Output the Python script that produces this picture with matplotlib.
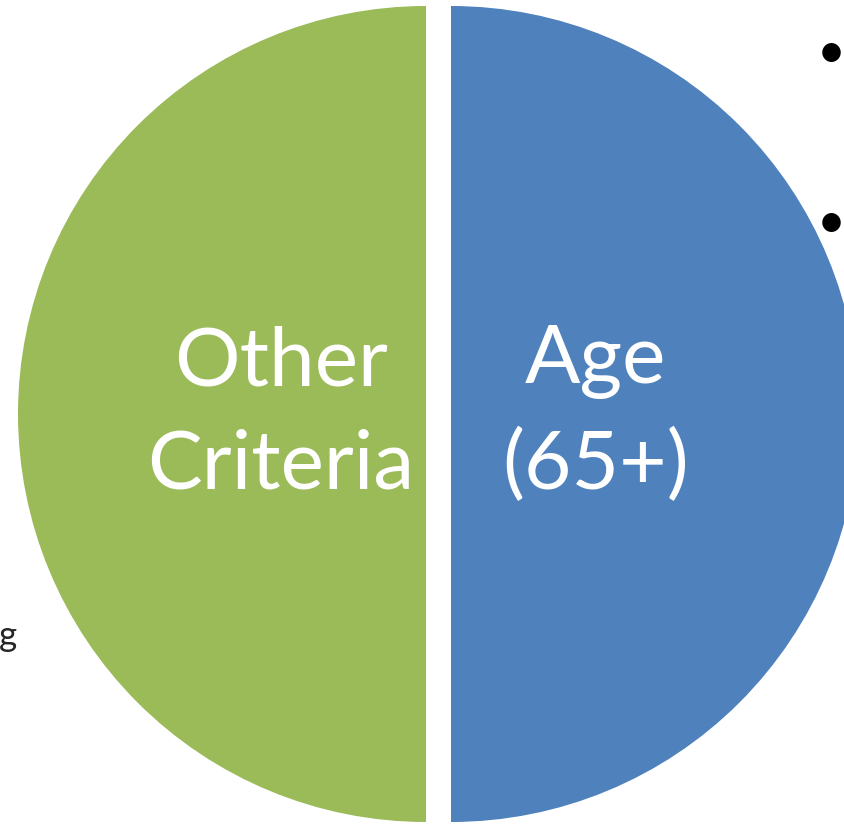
import matplotlib
matplotlib.use("Agg")
import matplotlib.pyplot as plt

# Chart data
labels = ["Other\nCriteria", "Age\n(65+)"]
shares = [50, 50]
colors = ["#9BBB59", "#4F81BD"]

# Stray slide text that shows at the edges
side_bullets = ["\u2022", "\u2022"]
side_text = "g"

W, H = 845, 824
fig = plt.figure(figsize=(W / 100, H / 100), dpi=100)
ax = fig.add_axes([0, 0, 1, 1])

radius = 408
center = (438.5, H - 414)
gap = 12.5  # explode is in data units here

wedges, texts = ax.pie(
    shares,
    labels=labels,
    colors=colors,
    startangle=90,
    radius=radius,
    center=center,
    explode=[gap, gap],
    labeldistance=0.355,
    frame=True,
    textprops=dict(color="white", fontsize=59, family="Lato", linespacing=1.48),
)
for t in texts:
    t.set_horizontalalignment("center")
    t.set_verticalalignment("center")

ax.set_xlim(0, W)
ax.set_ylim(0, H)
ax.set_aspect("equal")
ax.axis("off")

# bits of bullet text around the chart
for y_px, b in zip([54, 224], side_bullets):
    ax.text(846, H - y_px, b, fontsize=36, color="black", ha="right", va="center", family="Lato")
ax.text(17, H - 646, side_text, fontsize=25, color="#262626", ha="right", va="baseline", family="Lato")

fig.savefig("out.png", dpi=100)
